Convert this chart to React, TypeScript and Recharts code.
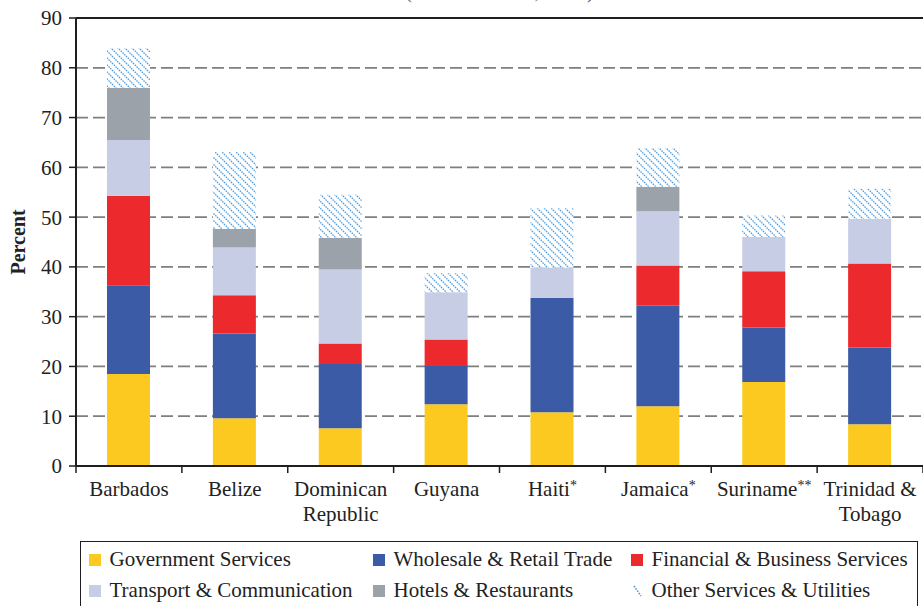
import React from 'react';
import { BarChart, Bar, XAxis, YAxis, CartesianGrid, ReferenceLine } from 'recharts';

// categories along the x axis ("\n" = line break, trailing * = footnote mark)
const categories = [
  'Barbados',
  'Belize',
  'Dominican\nRepublic',
  'Guyana',
  'Haiti*',
  'Jamaica*',
  'Suriname**',
  'Trinidad &\nTobago',
];

// shares of GDP, percent, bottom to top of each stack
const government = [18.5, 9.6, 7.6, 12.4, 10.8, 12.0, 16.9, 8.4];
const wholesale = [17.8, 17.0, 12.9, 7.7, 23.0, 20.2, 10.9, 15.4];
const financial = [18.0, 7.7, 4.1, 5.3, 0, 8.1, 11.3, 16.9];
const transport = [11.2, 9.6, 14.9, 9.5, 6.1, 10.9, 6.9, 8.9];
const hotels = [10.5, 3.7, 6.3, 0, 0, 4.9, 0, 0];
const other = [7.9, 15.5, 8.7, 3.8, 11.9, 7.8, 4.3, 6.1];

const yTicks = [0, 10, 20, 30, 40, 50, 60, 70, 80, 90];

const series = [
  { key: 'government', name: 'Government Services', values: government, fill: '#FBC91F' },
  { key: 'wholesale', name: 'Wholesale & Retail Trade', values: wholesale, fill: '#3C5BA7' },
  { key: 'financial', name: 'Financial & Business Services', values: financial, fill: '#EC2A2E' },
  { key: 'transport', name: 'Transport & Communication', values: transport, fill: '#C8CDE6' },
  { key: 'hotels', name: 'Hotels & Restaurants', values: hotels, fill: '#9BA2A9' },
  { key: 'other', name: 'Other Services & Utilities', values: other, fill: 'url(#hatch)' },
];

const chartData = categories.map((name, i) => {
  const row: Record<string, string | number> = { name };
  series.forEach((s) => {
    row[s.key] = s.values[i];
  });
  return row;
});

const W = 923;
const H = 606;
const PLOT_LEFT = 76;
const FONT = '"Liberation Serif", "Times New Roman", serif';
const INK = '#1e1e1e';
const HATCH = '#4a9be0';
const halfBand = (W - PLOT_LEFT) / categories.length / 2;

const CategoryTick = (props: any) => {
  const { x, y, payload, index } = props;
  const lines = String(payload.value).split('\n');
  return (
    <g>
      <line x1={x - halfBand} y1={y} x2={x - halfBand} y2={y + 7} stroke={INK} strokeWidth={1.5} />
      {index === categories.length - 1 && (
        <line x1={x + halfBand} y1={y} x2={x + halfBand} y2={y + 7} stroke={INK} strokeWidth={1.5} />
      )}
      <text x={x} y={y + 30} textAnchor="middle" fontFamily={FONT} fontSize={21} fill="#222">
        {lines.map((ln, i) => {
          const m = ln.match(/^(.*?)(\*+)$/);
          return (
            <tspan key={i} x={x} dy={i === 0 ? 0 : 25}>
              {m ? m[1] : ln}
              {m && (
                <tspan fontSize={14} dy={-6}>
                  {m[2]}
                </tspan>
              )}
            </tspan>
          );
        })}
      </text>
    </g>
  );
};

const PercentLabel = (props: any) => {
  const { viewBox } = props;
  const cy = viewBox.y + viewBox.height / 2;
  return (
    <text
      x={18}
      y={cy}
      transform={`rotate(-90, 18, ${cy})`}
      textAnchor="middle"
      dominantBaseline="central"
      fontFamily={FONT}
      fontWeight="bold"
      fontSize={20}
      fill="#222"
    >
      Percent
    </text>
  );
};

const LegendMarker = ({ fill }: { fill: string }) => {
  if (fill.startsWith('url')) {
    return (
      <svg width={12} height={12} style={{ marginRight: 8.5, flex: 'none' }}>
        <line x1={3} y1={1} x2={10} y2={11} stroke={HATCH} strokeWidth={1.6} strokeDasharray="1.6 1.2" />
      </svg>
    );
  }
  return <div style={{ width: 12, height: 12, background: fill, marginRight: 8.5, flex: 'none' }} />;
};

export default function App() {
  return (
    <div style={{ position: 'absolute', left: 0, top: 0, width: W, height: H, overflow: 'hidden', background: '#fff' }}>
      <div
        style={{
          position: 'absolute',
          left: PLOT_LEFT,
          width: W - PLOT_LEFT,
          top: -18.6,
          textAlign: 'center',
          fontFamily: FONT,
          fontSize: 21,
          lineHeight: '21px',
          color: '#666',
        }}
      >
        (as a % of GDP, 2008)
      </div>

      <BarChart width={W} height={H} data={chartData} margin={{ top: 18, right: 0, left: 0, bottom: 0 }} barSize={43}>
        <defs>
          <pattern id="hatch" width={7} height={7} patternUnits="userSpaceOnUse">
            <rect width={7} height={7} fill="#fff" />
            <path d="M0,0 L7,7 M-1,6 L1,8 M6,-1 L8,1" stroke={HATCH} strokeWidth={1.3} strokeDasharray="1.5 1" />
          </pattern>
        </defs>
        <CartesianGrid vertical={false} stroke="#7f7f7f" strokeWidth={1.7} strokeDasharray="12 5" />
        <XAxis
          dataKey="name"
          height={H - 466 - 0}
          interval={0}
          axisLine={{ stroke: INK, strokeWidth: 2 }}
          tickLine={false}
          tickSize={0}
          tickMargin={0}
          tick={<CategoryTick />}
        />
        <YAxis
          width={PLOT_LEFT}
          domain={[0, 90]}
          ticks={yTicks}
          interval={0}
          axisLine={{ stroke: INK, strokeWidth: 2 }}
          tickLine={{ stroke: INK, strokeWidth: 1.5 }}
          tickSize={7}
          tickMargin={7}
          tick={{ fontFamily: FONT, fontSize: 21, fill: '#222' }}
          label={<PercentLabel />}
        />
        <ReferenceLine y={90} stroke={INK} strokeWidth={2.2} />
        {series.map((s) => (
          <Bar key={s.key} dataKey={s.key} name={s.name} stackId="a" fill={s.fill} isAnimationActive={false} />
        ))}
      </BarChart>

      <div
        style={{
          position: 'absolute',
          left: 80,
          top: 541,
          width: 838,
          height: 90,
          boxSizing: 'border-box',
          border: `1.3px solid ${INK}`,
          paddingLeft: 8,
          paddingTop: 2,
          display: 'grid',
          gridTemplateColumns: '284px 258px auto',
          gridAutoRows: '31px',
          fontFamily: FONT,
          fontSize: 21,
          color: '#222',
        }}
      >
        {series.map((s) => (
          <div key={s.key} style={{ display: 'flex', alignItems: 'center', whiteSpace: 'nowrap' }}>
            <LegendMarker fill={s.fill} />
            <span>{s.name}</span>
          </div>
        ))}
      </div>
    </div>
  );
}
